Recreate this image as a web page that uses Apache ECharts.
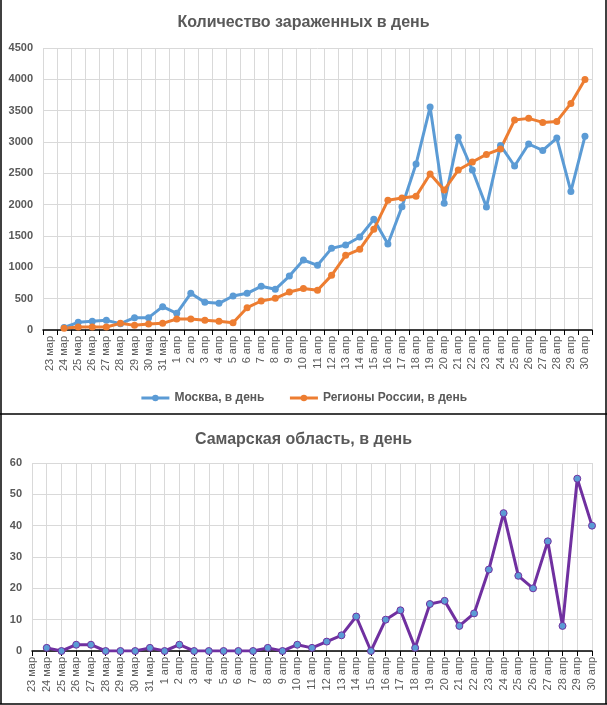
<!DOCTYPE html>
<html>
<head>
<meta charset="utf-8">
<script src="https://cdn.jsdelivr.net/npm/echarts@6/dist/echarts.min.js"></script>
<style>html,body{margin:0;padding:0;background:#fff;}#c{width:607px;height:705px;}</style>
</head>
<body>
<div id="c"></div>
<script>
const categories = ['23 мар','24 мар','25 мар','26 мар','27 мар','28 мар','29 мар','30 мар','31 мар',
  '1 апр','2 апр','3 апр','4 апр','5 апр','6 апр','7 апр','8 апр','9 апр','10 апр',
  '11 апр','12 апр','13 апр','14 апр','15 апр','16 апр','17 апр','18 апр','19 апр','20 апр',
  '21 апр','22 апр','23 апр','24 апр','25 апр','26 апр','27 апр','28 апр','29 апр','30 апр'];
const moscow = [null,40,122,138,154,101,197,197,372,266,585,441,425,542,585,697,649,861,1117,
  1032,1303,1356,1484,1766,1372,1968,2648,3558,2021,3074,2553,1962,2946,2617,2968,2866,3063,2212,3090];
const regions = [null,27,48,48,48,106,74,96,106,175,175,154,138,117,356,463,505,606,662,
  633,872,1191,1287,1606,2069,2106,2133,2489,2234,2553,2680,2802,2888,3350,3377,3313,3329,3616,3999];
const samara = [null,1,0,2,2,0,0,0,1,0,2,0,0,0,0,0,1,0,2,
  1,3,5,11,0,10,13,1,15,16,8,12,26,44,24,20,35,8,55,40];
const title1 = 'Количество зараженных в день';
const title2 = 'Самарская область, в день';
const nameMoscow = 'Москва, в день';
const nameRegions = 'Регионы России, в день';
const nameSamara = 'Самарская область, в день';

const FONT = 'Liberation Sans';
const TXT = '#595959';
const chart = echarts.init(document.getElementById('c'), null, {renderer:'canvas'});
const gridLine = {show:true, lineStyle:{color:'#d9d9d9', width:1}};
const xLabel = {rotate:90, color:TXT, fontFamily:FONT, fontSize:11, interval:0, margin:6};
const yLabel = {color:TXT, fontFamily:FONT, fontSize:11, fontWeight:'bold', margin:10, formatter:function(v){return String(v);}};
chart.setOption({
  animation:false,
  title:[
    {text:title1, left:'center', top:10, textStyle:{color:TXT, fontFamily:FONT, fontSize:16, fontWeight:'bold'}},
    {text:title2, left:'center', top:427, textStyle:{color:TXT, fontFamily:FONT, fontSize:16, fontWeight:'bold'}}
  ],
  legend:{data:[nameMoscow,nameRegions], left:'center', top:387, itemWidth:28, itemHeight:8, itemGap:24,
    lineStyle:{width:3},
    textStyle:{color:TXT, fontFamily:FONT, fontSize:12, fontWeight:'bold'}},
  grid:[
    {left:43, right:15, top:48, bottom:375},
    {left:32, right:15, top:463, bottom:54}
  ],
  xAxis:[
    {type:'category', gridIndex:0, data:categories, boundaryGap:true,
     axisLine:{lineStyle:{color:'#000', width:1.5}}, axisTick:{show:true, length:5, interval:0, lineStyle:{color:'#000'}},
     axisLabel:xLabel, splitLine:Object.assign({interval:0}, gridLine)},
    {type:'category', gridIndex:1, data:categories, boundaryGap:false,
     axisLine:{lineStyle:{color:'#000', width:1.5}}, axisTick:{show:true, length:5, interval:0, lineStyle:{color:'#000'}},
     axisLabel:xLabel, splitLine:Object.assign({interval:0}, gridLine)}
  ],
  yAxis:[
    {type:'value', gridIndex:0, min:0, max:4500, interval:500, axisLine:{show:false}, axisTick:{show:false},
     axisLabel:yLabel, splitLine:gridLine},
    {type:'value', gridIndex:1, min:0, max:60, interval:10, axisLine:{show:false}, axisTick:{show:false},
     axisLabel:yLabel, splitLine:gridLine}
  ],
  series:[
    {name:nameMoscow, type:'line', xAxisIndex:0, yAxisIndex:0, data:moscow, symbol:'circle', symbolSize:7,
     lineStyle:{color:'#5B9BD5', width:3}, itemStyle:{color:'#5B9BD5'}, connectNulls:false},
    {name:nameRegions, type:'line', xAxisIndex:0, yAxisIndex:0, data:regions, symbol:'circle', symbolSize:7,
     lineStyle:{color:'#ED7D31', width:3}, itemStyle:{color:'#ED7D31'}},
    {name:nameSamara, type:'line', xAxisIndex:1, yAxisIndex:1, data:samara, symbol:'circle', symbolSize:7,
     lineStyle:{color:'#7030A0', width:3}, itemStyle:{color:'#5B9BD5', borderColor:'#7030A0', borderWidth:1}}
  ],
  graphic:[
    {type:'line', shape:{x1:1, y1:0, x2:1, y2:704}, style:{stroke:'#000', lineWidth:1.5}, silent:true},
    {type:'line', shape:{x1:606, y1:0, x2:606, y2:704}, style:{stroke:'#000', lineWidth:1.5}, silent:true},
    {type:'line', shape:{x1:0, y1:414, x2:607, y2:414}, style:{stroke:'#000', lineWidth:1.5}, silent:true},
    {type:'line', shape:{x1:0, y1:704, x2:607, y2:704}, style:{stroke:'#000', lineWidth:1.5}, silent:true}
  ]
});
</script>
</body>
</html>
